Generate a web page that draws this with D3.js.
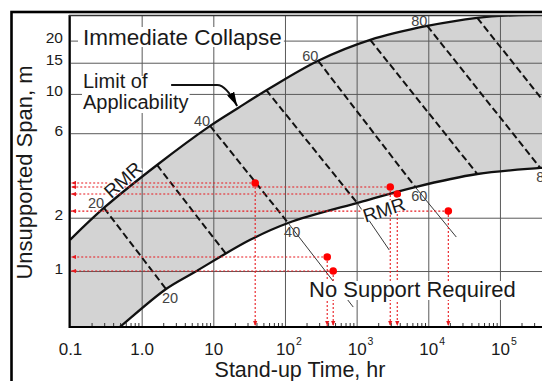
<!DOCTYPE html>
<html>
<head>
<meta charset="utf-8">
<script src="https://cdn.jsdelivr.net/npm/d3@7"></script>
<style>
  body { margin: 0; background: #fff; }
  svg { display: block; font-family: 'Liberation Sans', Arial, sans-serif; }
</style>
</head>
<body>
<div id="chart"></div>
<script>
// stand-up time vs unsupported span
const xTicks = [0.1, 1, 10, 100, 1000, 10000, 100000];
const xTickBase = ['0.1', '1.0', '10', '10', '10', '10', '10'];
const xTickPow = ['', '', '', '2', '3', '4', '5'];
const yTicks = [1, 2, 6, 10, 15, 20];

// [stand-up time hr, span m]
const upperCurve = [
    [0.1, 1.50], [0.308, 2.30], [1.64, 3.97], [9.02, 6.60], [22.2, 8.33],
    [62.1, 10.8], [291, 15.4], [1549, 20.2], [9680, 24.2], [48300, 26.9],
    [153800, 27.8], [2.5e6, 28.3]
];
const lowerCurve = [
    [0.262, 0.387], [0.499, 0.483], [2.19, 0.791], [5.22, 0.974], [32.7, 1.50],
    [110.8, 1.867], [1123, 2.45], [6581, 2.98], [48300, 3.53], [366000, 3.82], [2.5e6, 4.02]
];

// RMR iso-lines across the band: [rmr, t top, span top, t bottom, span bottom]
const rmrLines = [
    [20, 0.2985, 2.27, 2.19, 0.791],
    [30, 1.64, 3.97, 15.1, 1.247],
    [40, 9.02, 6.60, 110.8, 1.867],
    [50, 54.6, 10.53, 1020, 2.42],
    [60, 291, 15.36, 6581, 2.98],
    [70, 1549, 20.19, 48300, 3.53],
    [80, 9680, 24.23, 366000, 3.82],
    [90, 48300, 26.88, 2.02e6, 4.02]
];
const rmrLabelled = [20, 40, 60, 80];

// thin continuations below the band: [t from, span from, t to, span to]
const extLines = [
    [110.8, 1.867, 897, 0.626],
    [1020, 2.42, 2853, 1.314],
    [6581, 2.98, 24600, 1.556]
];

const sampleTime = [38.4, 2946, 3690, 19030, 388.6, 471];
const sampleSpan = [3.14, 2.98, 2.72, 2.18, 1.20, 1.00];

const width = 542, height = 381;
const plotLeft = 70, plotTop = 15, plotBottom = 327, plotRight = 600;
const ink = '#1a1a1a';

const x = d3.scaleLog().domain([0.1, 1e6]).range([plotLeft, 571.6]);
const y = d3.scaleLog().domain([0.483, 27.9]).range([plotBottom, plotTop]);

const svg = d3.select('#chart').append('svg')
    .attr('width', width)
    .attr('height', height);

const defs = svg.append('defs');
defs.append('clipPath').attr('id', 'plotClip')
    .append('rect')
    .attr('x', plotLeft).attr('y', plotTop)
    .attr('width', plotRight - plotLeft).attr('height', plotBottom - plotTop);

defs.append('marker')
    .attr('id', 'redArrow')
    .attr('viewBox', '0 0 6 6')
    .attr('refX', 6).attr('refY', 3)
    .attr('markerWidth', 5).attr('markerHeight', 5)
    .attr('markerUnits', 'userSpaceOnUse')
    .attr('orient', 'auto')
    .append('path').attr('d', 'M0,0.5 L6,3 L0,5.5 Z').attr('fill', '#e8191e');

defs.append('marker')
    .attr('id', 'blackArrow')
    .attr('viewBox', '0 0 14 8')
    .attr('refX', 14).attr('refY', 4)
    .attr('markerWidth', 14).attr('markerHeight', 8)
    .attr('markerUnits', 'userSpaceOnUse')
    .attr('orient', 'auto')
    .append('path').attr('d', 'M0,0 L14,4 L0,8 Z').attr('fill', '#000');

const plot = svg.append('g').attr('clip-path', 'url(#plotClip)');

const line = d3.line()
    .x(d => x(d[0]))
    .y(d => y(d[1]))
    .curve(d3.curveCatmullRom.alpha(0.5));

// grey band between the two limits
const bandPath = line(upperCurve) + 'L' +
    line(lowerCurve.slice().reverse()).substring(1) +
    `L${x(0.03)},${y(0.3)}Z`;
plot.append('path')
    .attr('d', bandPath)
    .attr('fill', '#d3d3d3');

// grid
plot.append('g')
    .attr('transform', `translate(0,${plotBottom})`)
    .call(d3.axisBottom(x).tickValues(xTicks).tickSize(-(plotBottom - plotTop)).tickFormat(''))
    .call(g => g.select('.domain').remove())
    .selectAll('line').attr('stroke', '#5a5a5a').attr('stroke-width', 1);

plot.append('g')
    .attr('transform', `translate(${plotLeft},0)`)
    .call(d3.axisLeft(y).tickValues(yTicks).tickSize(-(plotRight - plotLeft)).tickFormat(''))
    .call(g => g.select('.domain').remove())
    .selectAll('line').attr('stroke', '#5a5a5a').attr('stroke-width', 1);

// minor ticks on the time axis
const minorTicks = x.ticks().filter(t => !xTicks.some(v => Math.abs(v - t) / v < 1e-6));
plot.append('g')
    .attr('transform', `translate(0,${plotBottom})`)
    .call(d3.axisBottom(x).tickValues(minorTicks).tickSize(-4).tickFormat(''))
    .call(g => g.select('.domain').remove())
    .selectAll('line').attr('stroke', '#333').attr('stroke-width', 1);

// band limits
plot.selectAll('.limit')
    .data([upperCurve, lowerCurve])
    .enter()
    .append('path')
    .attr('class', 'limit')
    .attr('d', d => line(d))
    .attr('fill', 'none')
    .attr('stroke', '#111')
    .attr('stroke-width', 2.3);

// RMR iso-lines
plot.selectAll('.rmr-line')
    .data(rmrLines)
    .enter()
    .append('line')
    .attr('class', 'rmr-line')
    .attr('x1', d => x(d[1])).attr('y1', d => y(d[2]))
    .attr('x2', d => x(d[3])).attr('y2', d => y(d[4]))
    .attr('stroke', '#111')
    .attr('stroke-width', 2)
    .attr('stroke-dasharray', '7,3.5');

plot.selectAll('.ext-line')
    .data(extLines)
    .enter()
    .append('line')
    .attr('class', 'ext-line')
    .attr('x1', d => x(d[0])).attr('y1', d => y(d[1]))
    .attr('x2', d => x(d[2])).attr('y2', d => y(d[3]))
    .attr('stroke', '#222')
    .attr('stroke-width', 0.9);

// RMR numbers at both ends
const labelled = rmrLines.filter(d => rmrLabelled.includes(d[0]));
svg.selectAll('.rmr-top')
    .data(labelled)
    .enter()
    .append('text')
    .attr('class', 'rmr-top')
    .attr('x', d => x(d[1]) - 8)
    .attr('y', d => y(d[2]) - 5)
    .attr('dy', '0.35em')
    .attr('text-anchor', 'middle')
    .style('font-size', '14.5px')
    .style('fill', '#444')
    .text(d => d[0]);

svg.selectAll('.rmr-bottom')
    .data(labelled)
    .enter()
    .append('text')
    .attr('class', 'rmr-bottom')
    .attr('x', d => x(d[3]) + 4)
    .attr('y', d => y(d[4]) + 9)
    .attr('dy', '0.35em')
    .attr('text-anchor', 'middle')
    .style('font-size', '14.5px')
    .style('fill', '#444')
    .text(d => d[0]);

// red sample points projected on both axes
const samples = sampleTime.map((t, i) => [t, sampleSpan[i]]);
const red = svg.append('g');
red.selectAll('.h-proj')
    .data(samples)
    .enter()
    .append('line')
    .attr('x1', d => x(d[0])).attr('y1', d => y(d[1]))
    .attr('x2', plotLeft + 1).attr('y2', d => y(d[1]))
    .attr('stroke', '#e8191e')
    .attr('stroke-width', 1.1)
    .attr('stroke-dasharray', '2,2')
    .attr('marker-end', 'url(#redArrow)');
red.selectAll('.v-proj')
    .data(samples)
    .enter()
    .append('line')
    .attr('x1', d => x(d[0])).attr('y1', d => y(d[1]))
    .attr('x2', d => x(d[0])).attr('y2', plotBottom - 1)
    .attr('stroke', '#e8191e')
    .attr('stroke-width', 1.1)
    .attr('stroke-dasharray', '2,2')
    .attr('marker-end', 'url(#redArrow)');
red.selectAll('circle')
    .data(samples)
    .enter()
    .append('circle')
    .attr('cx', d => x(d[0])).attr('cy', d => y(d[1]))
    .attr('r', 3.8)
    .attr('fill', '#f00');

// text with a white box behind it, pad = [top, right, bottom, left]
function boxedText(parent, str, px, py, size, pad, transform, anchor) {
    const g = parent.append('g');
    if (transform) g.attr('transform', transform);
    const t = g.append('text')
        .attr('x', px).attr('y', py)
        .attr('text-anchor', anchor || 'start')
        .style('font-size', `${size}px`)
        .style('fill', ink)
        .text(str);
    const bb = t.node().getBBox();
    g.insert('rect', 'text')
        .attr('x', bb.x - pad[3]).attr('y', bb.y - pad[0])
        .attr('width', bb.width + pad[1] + pad[3])
        .attr('height', bb.height + pad[0] + pad[2])
        .attr('fill', '#fff');
    return t;
}

// annotations
const notes = svg.append('g');
boxedText(notes, 'RMR', 0, 6.5, 19, [-3, 0, -5, 0], 'translate(123,180) rotate(-42)', 'middle');
boxedText(notes, 'RMR', 0, 6.5, 19, [-3, 0, -5, 0], 'translate(384,210) rotate(-18)', 'middle');
boxedText(notes, 'Immediate Collapse', 83, 45, 22.5, [-2, 2, -3, 5]);

const limitBox = notes.append('rect').attr('fill', '#fff');
notes.append('text').attr('x', 83).attr('y', 88)
    .style('font-size', '20px').style('fill', ink).text('Limit of');
const l2 = notes.append('text').attr('x', 83).attr('y', 109)
    .style('font-size', '20px').style('fill', ink).text('Applicability');
const b2 = l2.node().getBBox();
limitBox.attr('x', b2.x - 1).attr('y', 76).attr('width', b2.width + 2).attr('height', 37);

const tip = [x(22.2) - 1, y(8.33) - 2];
notes.append('path')
    .attr('d', `M${tip[0] - 66},${tip[1] - 21} H${tip[0] - 20} Q${tip[0] - 11},${tip[1] - 21} ${tip[0]},${tip[1]}`)
    .attr('fill', 'none')
    .attr('stroke', '#111')
    .attr('stroke-width', 2)
    .attr('marker-end', 'url(#blackArrow)');

boxedText(notes, 'No Support Required', 309, 297, 22, [-4, 1, -2, 1]);

// frame and axes
svg.append('line')
    .attr('x1', plotLeft - 0.5).attr('x2', plotLeft - 0.5)
    .attr('y1', plotTop).attr('y2', plotBottom + 1)
    .attr('stroke', '#000').attr('stroke-width', 2);
svg.append('line')
    .attr('x1', plotLeft - 1).attr('x2', width)
    .attr('y1', plotBottom).attr('y2', plotBottom)
    .attr('stroke', '#000').attr('stroke-width', 2);
svg.append('line')
    .attr('x1', plotLeft - 1).attr('x2', width)
    .attr('y1', plotTop + 0.5).attr('y2', plotTop + 0.5)
    .attr('stroke', '#333').attr('stroke-width', 1.5);
svg.append('rect')
    .attr('x', 11.5).attr('y', 12)
    .attr('width', 600).attr('height', 420)
    .attr('fill', 'none')
    .attr('stroke', '#000').attr('stroke-width', 2.6);

// tick labels
svg.append('g')
    .attr('transform', `translate(${plotLeft},0)`)
    .call(d3.axisLeft(y).tickValues(yTicks).tickSize(0).tickPadding(7).tickFormat(d3.format('d')))
    .call(g => g.select('.domain').remove())
    .selectAll('text')
    .attr('dy', '0.13em')
    .style('font-size', '15.5px')
    .style('font-family', "'Liberation Sans', Arial, sans-serif")
    .style('fill', ink);

svg.append('g')
    .attr('transform', `translate(0,${plotBottom})`)
    .call(d3.axisBottom(x).tickValues(xTicks).tickSize(0).tickPadding(16).tickFormat((d, i) => xTickBase[i]))
    .call(g => g.select('.domain').remove())
    .selectAll('.tick')
    .each(function (d, i) {
        const txt = d3.select(this).select('text')
            .style('font-size', '17px')
            .style('font-family', "'Liberation Sans', Arial, sans-serif")
            .style('fill', ink);
        if (xTickPow[i]) {
            const w = txt.node().getComputedTextLength();
            d3.select(this).append('text')
                .attr('x', w / 2 + 1)
                .attr('y', 18)
                .attr('text-anchor', 'start')
                .style('font-size', '10.5px')
                .style('font-family', "'Liberation Sans', Arial, sans-serif")
                .style('fill', ink)
                .text(xTickPow[i]);
        }
    });

// axis titles
svg.append('text')
    .attr('x', 300).attr('y', 376.5)
    .attr('text-anchor', 'middle')
    .style('font-size', '21.5px')
    .style('fill', ink)
    .text('Stand-up Time, hr');

svg.append('text')
    .attr('transform', 'translate(32,172.5) rotate(-90)')
    .attr('text-anchor', 'middle')
    .style('font-size', '22px')
    .style('fill', ink)
    .text('Unsupported Span, m');
</script>
</body>
</html>
